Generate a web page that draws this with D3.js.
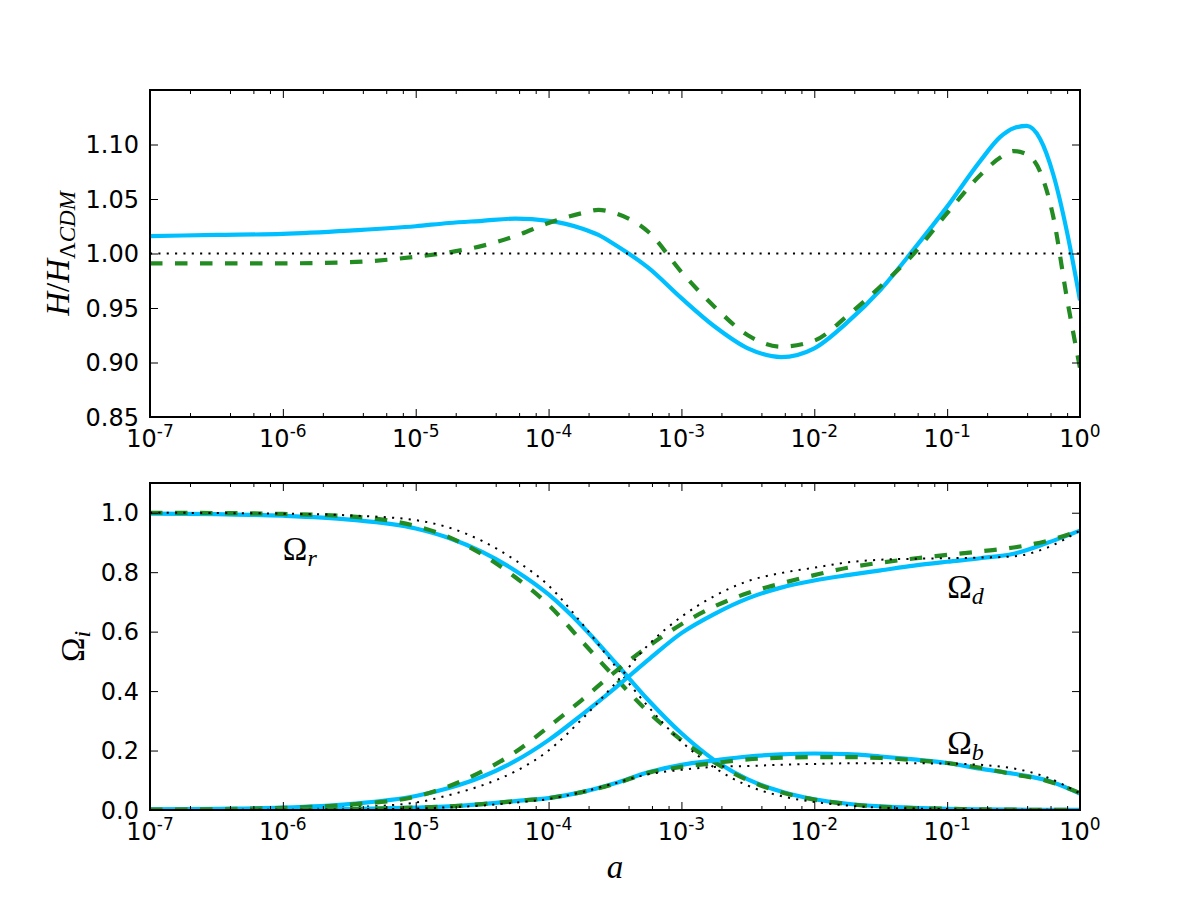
<!DOCTYPE html>
<html>
<head>
<meta charset="utf-8">
<script src="https://cdnjs.cloudflare.com/ajax/libs/d3/7.8.5/d3.min.js"></script>
<style>
  body { margin: 0; background: #fff; }
  svg { display: block; }
</style>
</head>
<body>
<div id="chart"></div>
<script>
//sample points, given as log10(a)
var topLogA = [-7, -6.5, -6, -5.5, -5, -4.75, -4.5, -4.25, -4, -3.75, -3.625, -3.5, -3.25, -3, -2.75, -2.5, -2.25,
  -2, -1.75, -1.5, -1.25, -1, -0.75, -0.6, -0.5, -0.4, -0.3, -0.2, -0.1, 0];
var hSolid = [1.016, 1.017, 1.018, 1.021, 1.025, 1.028, 1.030, 1.032, 1.030, 1.023, 1.017, 1.008, 0.987, 0.959, 0.933, 0.913, 0.905,
  0.913, 0.937, 0.967, 1.004, 1.043, 1.085, 1.107, 1.115, 1.117, 1.105, 1.072, 1.021, 0.957];
var hDashed = [0.991, 0.991, 0.991, 0.992, 0.997, 1.001, 1.007, 1.016, 1.028, 1.037, 1.040, 1.037, 1.020, 0.983, 0.951, 0.925, 0.9145,
  0.920, 0.943, 0.970, 1.000, 1.037, 1.072, 1.088, 1.094, 1.091, 1.075, 1.033, 0.960, 0.895];
var hRef = [1.0, 1.0];

var botLogA = [-7, -6.5, -6, -5.5, -5, -4.75, -4.5, -4.25, -4, -3.75, -3.5, -3.25, -3, -2.75, -2.5, -2.25,
  -2, -1.75, -1.5, -1.25, -1, -0.75, -0.5, -0.25, 0];
var omRSolid = [0.997, 0.995, 0.990, 0.977, 0.947, 0.915, 0.868, 0.805, 0.725, 0.620, 0.497, 0.370, 0.258, 0.167, 0.103, 0.062,
  0.036, 0.021, 0.012, 0.007, 0.004, 0.002, 0.001, 0.0005, 0.0003];
var omRDashed = [1.0, 0.999, 0.996, 0.988, 0.955, 0.918, 0.860, 0.783, 0.690, 0.568, 0.446, 0.330, 0.235, 0.160, 0.100, 0.060,
  0.035, 0.020, 0.011, 0.006, 0.004, 0.002, 0.001, 0.0005, 0.0003];
var omRDotted = [1.0, 0.999, 0.997, 0.991, 0.975, 0.950, 0.905, 0.840, 0.755, 0.628, 0.485, 0.348, 0.230, 0.142, 0.082, 0.047,
  0.027, 0.015, 0.008, 0.005, 0.003, 0.002, 0.001, 0.0005, 0.0003];
var omDSolid = [0.002, 0.004, 0.008, 0.020, 0.047, 0.074, 0.112, 0.165, 0.235, 0.320, 0.410, 0.505, 0.595, 0.660, 0.712, 0.748,
  0.772, 0.790, 0.806, 0.822, 0.835, 0.847, 0.862, 0.898, 0.940];
var omDDashed = [0.001, 0.003, 0.007, 0.018, 0.045, 0.080, 0.130, 0.195, 0.280, 0.370, 0.465, 0.550, 0.625, 0.685, 0.730, 0.762,
  0.790, 0.815, 0.832, 0.846, 0.858, 0.870, 0.883, 0.905, 0.940];
var omDDotted = [0.0005, 0.001, 0.003, 0.009, 0.025, 0.050, 0.083, 0.130, 0.200, 0.305, 0.425, 0.555, 0.650, 0.720, 0.770, 0.797,
  0.815, 0.833, 0.842, 0.845, 0.847, 0.849, 0.853, 0.882, 0.940];
var omBSolid = [0.0002, 0.0005, 0.001, 0.003, 0.008, 0.012, 0.020, 0.030, 0.040, 0.060, 0.090, 0.127, 0.152, 0.167, 0.180, 0.187,
  0.190, 0.188, 0.180, 0.170, 0.158, 0.139, 0.122, 0.100, 0.055];
var omBDashed = [0.0002, 0.0005, 0.001, 0.003, 0.008, 0.012, 0.020, 0.030, 0.040, 0.060, 0.088, 0.125, 0.145, 0.158, 0.170, 0.176,
  0.178, 0.178, 0.175, 0.168, 0.158, 0.142, 0.120, 0.098, 0.057];
var omBDotted = [0.0001, 0.0003, 0.0008, 0.002, 0.005, 0.009, 0.015, 0.025, 0.037, 0.060, 0.090, 0.120, 0.135, 0.145, 0.148, 0.152,
  0.155, 0.157, 0.157, 0.157, 0.156, 0.152, 0.140, 0.110, 0.056];

//tick labels
var xTickExps = [-7, -6, -5, -4, -3, -2, -1, 0];
var xMinorSubs = [2, 4, 6, 8];
var yTicksTop = [0.85, 0.90, 0.95, 1.00, 1.05, 1.10];
var yTicksBottom = [0.0, 0.2, 0.4, 0.6, 0.8, 1.0];

var cyan = '#00bfff', green = '#228b22';
var width = 1200, height = 900;
var left = 150, right = 1080;
var tickFont = '"DejaVu Sans", sans-serif';
var mathFont = '"Liberation Serif", "DejaVu Serif", serif';

var svg = d3.select('#chart').append('svg').attr('width', width).attr('height', height);

var x = d3.scaleLog().domain([1e-7, 1]).range([left, right]);
var majorA = xTickExps.map(function(e) { return Math.pow(10, e); });
var minorA = [];
xTickExps.slice(0, -1).forEach(function(e) {
  xMinorSubs.forEach(function(s) { minorA.push(s * Math.pow(10, e)); });
});

function toPoints(logs, vals) {
  return logs.map(function(l, i) { return {a: Math.pow(10, l), v: vals[i]}; });
}

function drawPanel(id, yScale, yTicks, yFmt, series) {
  var top = yScale.range()[1], bottom = yScale.range()[0];
  var g = svg.append('g');

  g.append('clipPath').attr('id', 'clip-' + id)
    .append('rect').attr('x', left).attr('y', top).attr('width', right - left).attr('height', bottom - top);

  var plot = g.append('g').attr('clip-path', 'url(#clip-' + id + ')');
  var line = d3.line()
    .x(function(d) { return x(d.a); })
    .y(function(d) { return yScale(d.v); })
    .curve(d3.curveMonotoneX);

  series.forEach(function(s) {
    plot.append('path').datum(s.data)
      .attr('fill', 'none')
      .attr('stroke', s.color)
      .attr('stroke-width', s.width)
      .attr('stroke-dasharray', s.dash || null)
      .attr('d', line);
  });

  //ticks inside on all four sides
  function noDomain(sel) { sel.select('.domain').remove(); }
  g.append('g').attr('transform', 'translate(0,' + bottom + ')')
    .call(d3.axisBottom(x).tickValues(majorA).tickSize(-8).tickFormat('')).call(noDomain);
  g.append('g').attr('transform', 'translate(0,' + bottom + ')')
    .call(d3.axisBottom(x).tickValues(minorA).tickSize(-4).tickFormat('')).call(noDomain);
  g.append('g').attr('transform', 'translate(0,' + top + ')')
    .call(d3.axisTop(x).tickValues(majorA).tickSize(-8).tickFormat('')).call(noDomain);
  g.append('g').attr('transform', 'translate(0,' + top + ')')
    .call(d3.axisTop(x).tickValues(minorA).tickSize(-4).tickFormat('')).call(noDomain);
  g.append('g').attr('transform', 'translate(' + left + ',0)')
    .call(d3.axisLeft(yScale).tickValues(yTicks).tickSize(-8).tickFormat('')).call(noDomain);
  g.append('g').attr('transform', 'translate(' + right + ',0)')
    .call(d3.axisRight(yScale).tickValues(yTicks).tickSize(-8).tickFormat('')).call(noDomain);

  g.append('rect').attr('x', left).attr('y', top).attr('width', right - left).attr('height', bottom - top)
    .attr('fill', 'none').attr('stroke', '#000').attr('stroke-width', 2);

  //y tick labels
  g.selectAll('.ylab').data(yTicks).enter().append('text')
    .attr('x', left - 11)
    .attr('y', function(d) { return yScale(d); })
    .attr('dy', '0.36em')
    .attr('text-anchor', 'end')
    .style('font-family', tickFont).style('font-size', '24px')
    .text(yFmt);

  //x tick labels as 10^e
  var xl = g.selectAll('.xlab').data(xTickExps).enter().append('text')
    .attr('x', function(e) { return x(Math.pow(10, e)); })
    .attr('y', bottom + 30)
    .attr('text-anchor', 'middle')
    .style('font-family', tickFont).style('font-size', '24px');
  xl.append('tspan').text('10');
  xl.append('tspan').attr('dy', -10).style('font-size', '17px').text(function(e) { return e === 0 ? '0' : '-' + (-e); });
  return g;
}

//top panel
var yTop = d3.scaleLinear().domain([0.85, 1.15]).range([417, 90]);
drawPanel('top', yTop, yTicksTop, d3.format('.2f'), [
  {data: toPoints(topLogA, hSolid), color: cyan, width: 4.2},
  {data: toPoints(topLogA, hDashed), color: green, width: 4.2, dash: '12.5,12.5'},
  {data: toPoints([-7, 0], hRef), color: '#000', width: 2, dash: '2.1,6.25'}
]);

//bottom panel
var yBot = d3.scaleLinear().domain([0, 1.1]).range([810, 483]);
var botSeries = [];
[[omRSolid, omRDashed, omRDotted], [omDSolid, omDDashed, omDDotted], [omBSolid, omBDashed, omBDotted]].forEach(function(trio) {
  botSeries.push({data: toPoints(botLogA, trio[0]), color: cyan, width: 4.2});
  botSeries.push({data: toPoints(botLogA, trio[1]), color: green, width: 4.2, dash: '12.5,12.5'});
  botSeries.push({data: toPoints(botLogA, trio[2]), color: '#000', width: 2, dash: '2.1,6.25'});
});
drawPanel('bot', yBot, yTicksBottom, d3.format('.1f'), botSeries);

//axis labels
var yl1 = svg.append('text')
  .attr('transform', 'translate(69,' + ((90 + 417) / 2) + ') rotate(-90)')
  .attr('text-anchor', 'middle')
  .style('font-family', mathFont).style('font-size', '33px');
yl1.append('tspan').style('font-style', 'italic').text('H');
yl1.append('tspan').text('/');
yl1.append('tspan').style('font-style', 'italic').text('H');
yl1.append('tspan').attr('dy', 6).style('font-size', '23px').text('Λ');
yl1.append('tspan').style('font-size', '23px').style('font-style', 'italic').text('CDM');

var yl2 = svg.append('text')
  .attr('transform', 'translate(84,' + ((483 + 810) / 2) + ') rotate(-90)')
  .attr('text-anchor', 'middle')
  .style('font-family', mathFont).style('font-size', '33px');
yl2.append('tspan').text('Ω');
yl2.append('tspan').attr('dy', 6).style('font-size', '24px').style('font-style', 'italic').text('i');

svg.append('text')
  .attr('x', (left + right) / 2).attr('y', 878)
  .attr('text-anchor', 'middle')
  .style('font-family', mathFont).style('font-size', '33px').style('font-style', 'italic')
  .text('a');

//curve annotations
var notes = [
  {a: 1e-6, v: 0.84, sub: 'r'},
  {a: 1e-1, v: 0.712, sub: 'd'},
  {a: 1e-1, v: 0.19, sub: 'b'}
];
notes.forEach(function(n) {
  var t = svg.append('text')
    .attr('x', x(n.a)).attr('y', yBot(n.v))
    .style('font-family', mathFont).style('font-size', '33px');
  t.append('tspan').text('Ω');
  t.append('tspan').attr('dy', 6).style('font-size', '24px').style('font-style', 'italic').text(n.sub);
});
</script>
</body>
</html>
